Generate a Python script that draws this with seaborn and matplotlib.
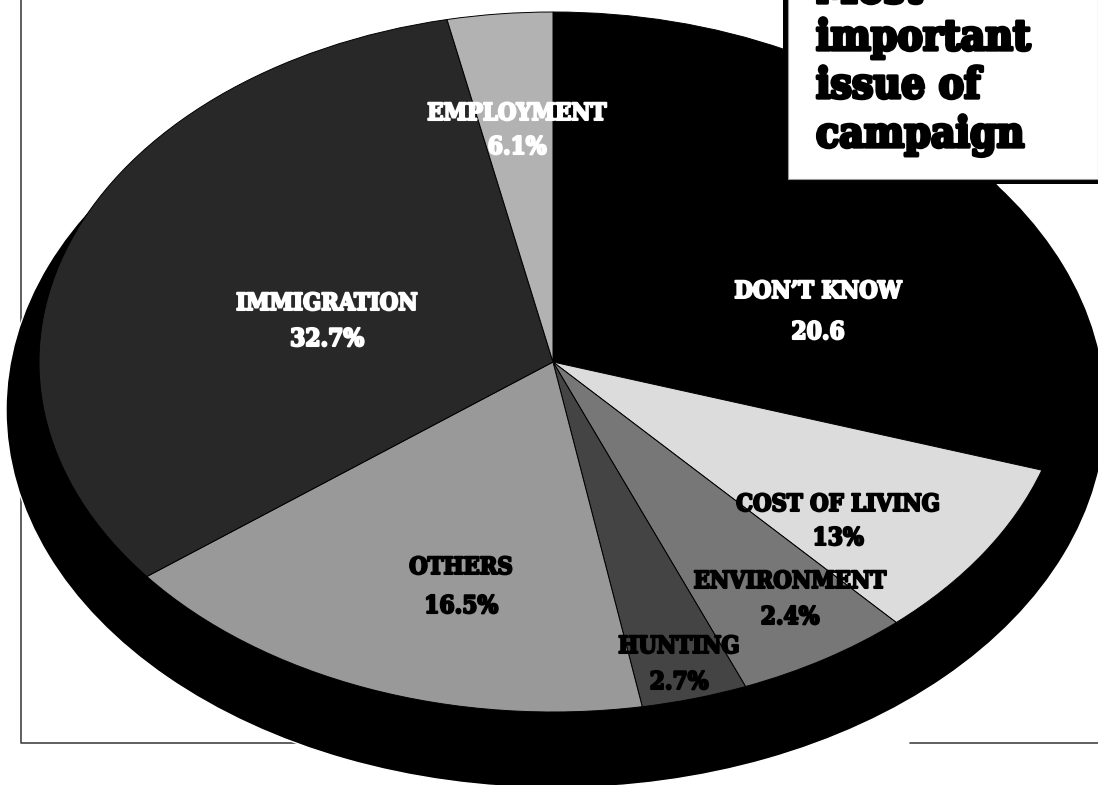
"""Most important issue of campaign: black and white pie with a drop shadow."""

import matplotlib
matplotlib.use('Agg')
import matplotlib.pyplot as plt
import matplotlib.patheffects as pe
import seaborn as sns

# labels as printed on the chart
issues = ['DON\u2019T KNOW', 'COST OF LIVING', 'ENVIRONMENT', 'HUNTING',
          'OTHERS', 'IMMIGRATION', 'EMPLOYMENT']
printed = ['20.6', '13%', '2.4%', '2.7%', '16.5%', '32.7%', '6.1%']
# slice sizes as drawn (degrees), the printed figures don't match the drawing
drawn_sweep = [108.0, 30.1, 19.9, 12.0, 62.2, 115.9, 11.9]
shades = ['#000000', '#dcdcdc', '#777777', '#444444', '#999999', '#282828', '#b2b2b2']
text_shades = ['white', 'black', 'black', 'black', 'black', 'white', 'white']
title_lines = ['Most', 'important', 'issue of', 'campaign']

W, H = 1098, 785
sns.set_theme(style='white')
plt.rcParams['font.family'] = ['DejaVu Serif']
plt.rcParams['font.stretch'] = 'condensed'

fig = plt.figure(figsize=(W / 100, H / 100), dpi=100, facecolor='white')


def px_axes(left, top, width, height, z):
    ax = fig.add_axes([left / W, 1 - (top + height) / H, width / W, height / H])
    ax.set_zorder(z)
    ax.patch.set_alpha(0)
    return ax


# frame lines behind everything
back = px_axes(0, 0, W, H, 0)
back.set_xlim(0, W)
back.set_ylim(H, 0)
back.axis('off')
back.plot([20.5, 20.5, 400], [0, 743, 743], color='#444444', lw=1.2)
back.plot([910, W], [743, 743], color='#444444', lw=1.2)

# black shadow disc
shadow = px_axes(6, 32, 1100, 756, 1)
shadow.pie([1], colors=['black'], radius=1)
shadow.set_aspect('auto')
shadow.set_xlim(-1, 1)
shadow.set_ylim(-1, 1)

# pie face
face = px_axes(39, 12, 1028, 700, 2)
face.pie(drawn_sweep, colors=shades, startangle=90, counterclock=False, radius=1,
         wedgeprops={'edgecolor': 'black', 'linewidth': 0.7})
face.set_aspect('auto')
face.set_xlim(-1, 1)
face.set_ylim(-1, 1)

# labels and title box on top
top = px_axes(0, 0, W, H, 3)
top.set_xlim(0, W)
top.set_ylim(H, 0)
top.axis('off')

label_x = [818, 838, 790, 679, 461, 327, 517]
name_y = [291, 504, 581, 646, 567, 303, 113]
value_y = [332, 538, 617, 682, 606, 339, 147]
for i, name in enumerate(issues):
    effect = [pe.withStroke(linewidth=1.5, foreground=text_shades[i])]
    top.text(label_x[i], name_y[i], name, color=text_shades[i], ha='center', va='center',
             fontsize=17, fontweight='bold', path_effects=effect)
    top.text(label_x[i], value_y[i], printed[i], color=text_shades[i], ha='center', va='center',
             fontsize=17.5, fontweight='bold', path_effects=effect)

top.fill_between([783, W], -2, 184, color='black', lw=0)
top.fill_between([788, W], -2, 178.5, color='white', edgecolor='#999999', lw=0.8)
for line, base in zip(title_lines, [3, 50, 98, 147]):
    top.text(816, base, line, color='black', ha='left', va='baseline', fontsize=30.5,
             fontweight='bold', path_effects=[pe.withStroke(linewidth=2.4, foreground='black')])

fig.savefig('out.png', dpi=100)
